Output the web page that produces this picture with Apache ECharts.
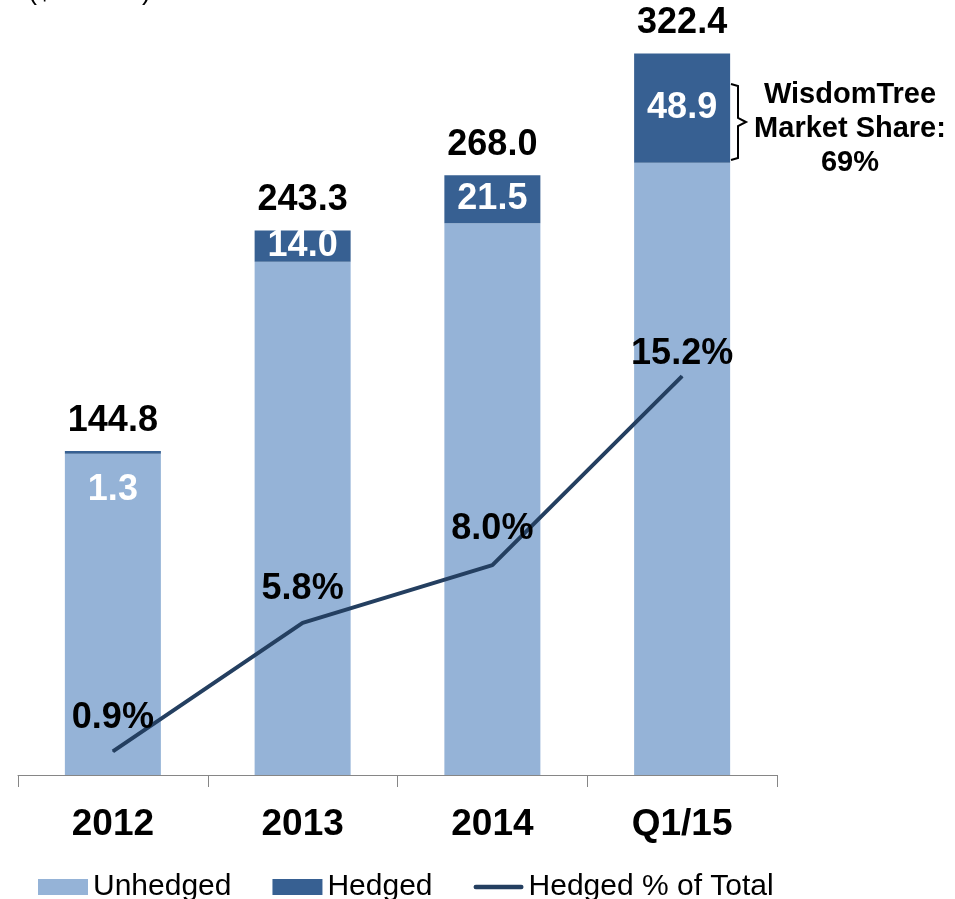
<!DOCTYPE html>
<html>
<head>
<meta charset="utf-8">
<script src="https://cdn.jsdelivr.net/npm/echarts@6/dist/echarts.min.js"></script>
<style>
  html, body { margin: 0; padding: 0; background: #fff; }
  #chart { width: 955px; height: 899px; }
</style>
</head>
<body>
<div id="chart"></div>
<script>
const categories = ['2012', '2013', '2014', 'Q1/15'];
const unhedged = [143.5, 229.3, 246.5, 273.5];
const hedged = [1.3, 14.0, 21.5, 48.9];
const totals = [144.8, 243.3, 268.0, 322.4];
const hedgedPct = [0.9, 5.8, 8.0, 15.2];
const pctLabelGap = [15, 15, 17, 4];

const chart = echarts.init(document.getElementById('chart'));

const bold = { fontFamily: "'Liberation Sans', Arial, sans-serif", fontWeight: 'bold', fontSize: 36 };

const option = {
    animation: false,
    grid: { left: 18, right: 178, top: 14, bottom: 124 },
    legend: {
        data: [
            { name: 'Unhedged', icon: 'rect' },
            { name: 'Hedged', icon: 'rect' },
            { name: 'Hedged % of Total', icon: 'path://M2.5,0 L52.5,0 A2.5,2.5 0 0 1 52.5,5 L2.5,5 A2.5,2.5 0 0 1 2.5,0 Z' }
        ],
        left: 33,
        top: 867,
        itemWidth: 50,
        itemHeight: 16,
        itemGap: 41,
        textStyle: { fontFamily: "'Liberation Sans', Arial, sans-serif", fontSize: 30, color: '#000' }
    },
    xAxis: {
        type: 'category',
        data: categories,
        axisLine: { lineStyle: { color: '#868686', width: 1 } },
        axisTick: { show: true, length: 12, lineStyle: { color: '#868686' } },
        axisLabel: {
            margin: 31,
            color: '#000',
            fontFamily: "'Liberation Sans', Arial, sans-serif",
            fontWeight: 'bold',
            fontSize: 37
        }
    },
    yAxis: [
        { type: 'value', min: 0, max: 340, show: false },
        { type: 'value', min: 0, max: 29, show: false }
    ],
    series: [
        {
            name: 'Unhedged',
            type: 'bar',
            stack: 'aum',
            barWidth: '50.6%',
            data: unhedged,
            itemStyle: { color: '#95b3d7' }
        },
        {
            name: 'Hedged',
            type: 'bar',
            stack: 'aum',
            data: hedged.map((v, i) => i === 0
                ? { value: v, label: { position: 'bottom', distance: 18 } }
                : v),
            itemStyle: { color: '#376092' },
            label: Object.assign({ show: true, position: 'inside', color: '#fff',
                formatter: p => p.value.toFixed(1) }, bold)
        },
        {
            name: 'Total',
            type: 'scatter',
            data: totals,
            symbolSize: 0,
            silent: true,
            itemStyle: { opacity: 1 },
            label: Object.assign({ show: true, position: 'top', distance: 12, color: '#000',
                formatter: p => p.value.toFixed(1) }, bold)
        },
        {
            name: 'Hedged % of Total',
            type: 'line',
            yAxisIndex: 1,
            data: hedgedPct.map((v, i) => ({ value: v, label: { distance: pctLabelGap[i] } })),
            symbol: 'circle',
            symbolSize: 1,
            showSymbol: true,
            lineStyle: { color: '#243f60', width: 4 },
            itemStyle: { color: '#243f60' },
            label: Object.assign({ show: true, position: 'top', color: '#000',
                formatter: p => p.value.toFixed(1) + '%' }, bold),
            z: 5
        }
    ],
    graphic: [
        {
            type: 'text',
            left: 28,
            top: -22,
            style: { text: '($ billions)', fontFamily: "'Liberation Sans', Arial, sans-serif", fontSize: 27, fill: '#000' }
        },
        {
            type: 'polyline',
            shape: { points: [[731, 84], [738, 86], [738, 118], [746, 122], [738, 126], [738, 158], [731, 160]] },
            style: { stroke: '#000', lineWidth: 2, fill: null }
        },
        {
            type: 'text',
            x: 850,
            y: 78,
            style: {
                text: 'WisdomTree\nMarket Share:\n69%',
                align: 'center',
                fontFamily: "'Liberation Sans', Arial, sans-serif",
                fontWeight: 'bold',
                fontSize: 29,
                lineHeight: 34,
                fill: '#000'
            }
        }
    ]
};

chart.setOption(option);
window.addEventListener('resize', () => chart.resize());
</script>
</body>
</html>
